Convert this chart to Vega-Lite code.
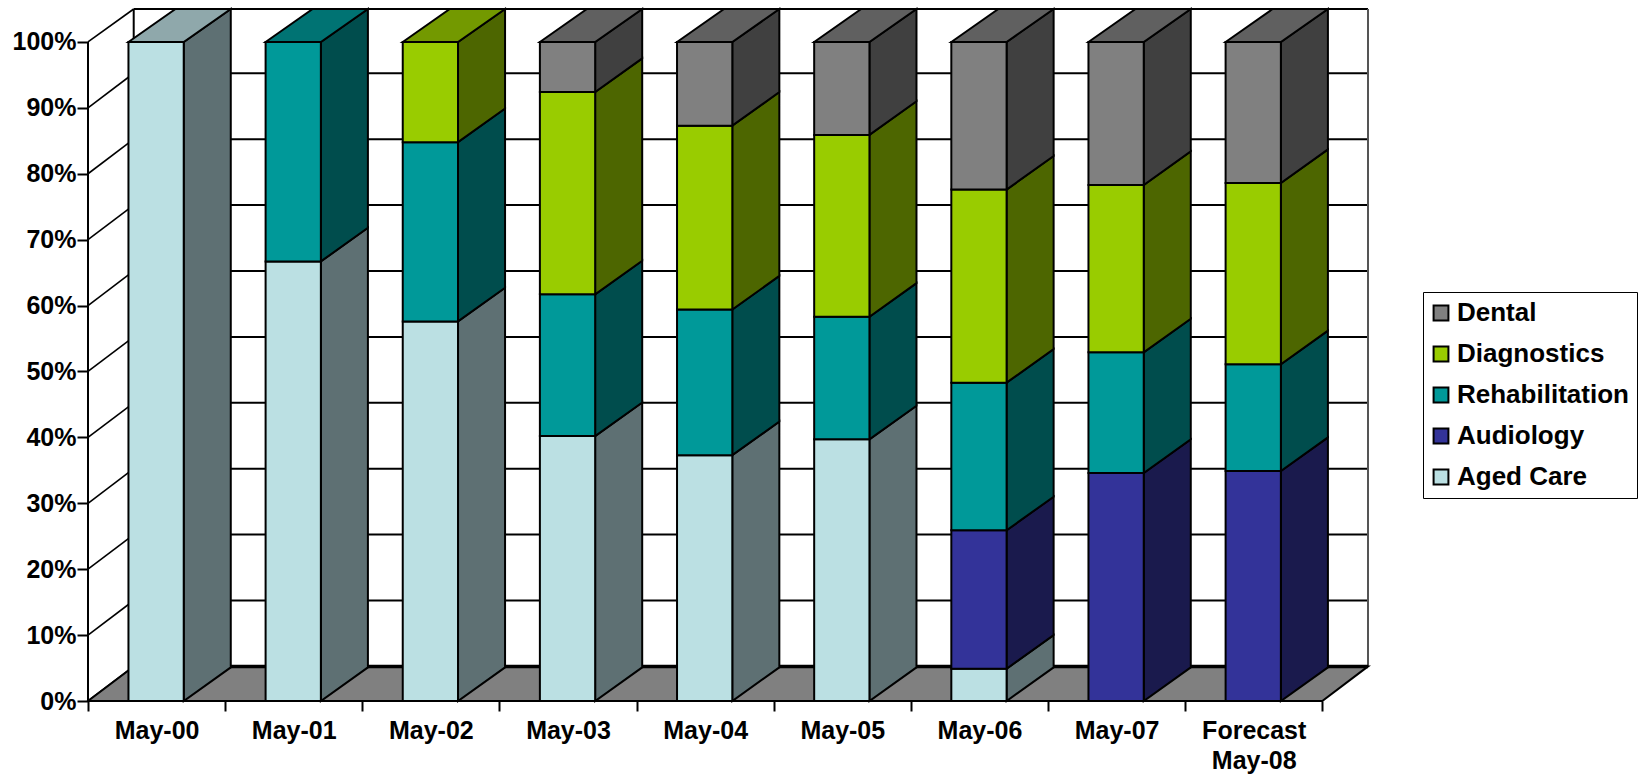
{
  "$schema": "https://vega.github.io/schema/vega-lite/v6.json",
  "width": 1280,
  "height": 692,
  "autosize": "none",
  "padding": {"left": 88, "top": 9, "right": 271, "bottom": 74},
  "background": "white",
  "config": {"view": {"stroke": null}},
  "params": [
    {"name": "depth", "value": 0.3333},
    {"name": "rise", "value": 5.25},
    {"name": "barDepth", "value": 0.343},
    {"name": "barRise", "value": 5.1},
    {"name": "ceiling", "value": 105},
    {"name": "slots", "value": 9}
  ],
  "datasets": {
    "levels": [
      {"pct": 0}, {"pct": 10}, {"pct": 20}, {"pct": 30}, {"pct": 40}, {"pct": 50},
      {"pct": 60}, {"pct": 70}, {"pct": 80}, {"pct": 90}, {"pct": 100}
    ]
  },
  "data": {
    "values": [
      {"month": "May-00", "service": "Aged Care", "share": 100},
      {"month": "May-01", "service": "Aged Care", "share": 66.7},
      {"month": "May-01", "service": "Rehabilitation", "share": 33.3},
      {"month": "May-02", "service": "Aged Care", "share": 57.6},
      {"month": "May-02", "service": "Rehabilitation", "share": 27.2},
      {"month": "May-02", "service": "Diagnostics", "share": 15.2},
      {"month": "May-03", "service": "Aged Care", "share": 40.2},
      {"month": "May-03", "service": "Rehabilitation", "share": 21.5},
      {"month": "May-03", "service": "Diagnostics", "share": 30.7},
      {"month": "May-03", "service": "Dental", "share": 7.6},
      {"month": "May-04", "service": "Aged Care", "share": 37.3},
      {"month": "May-04", "service": "Rehabilitation", "share": 22.1},
      {"month": "May-04", "service": "Diagnostics", "share": 27.9},
      {"month": "May-04", "service": "Dental", "share": 12.7},
      {"month": "May-05", "service": "Aged Care", "share": 39.7},
      {"month": "May-05", "service": "Rehabilitation", "share": 18.6},
      {"month": "May-05", "service": "Diagnostics", "share": 27.6},
      {"month": "May-05", "service": "Dental", "share": 14.1},
      {"month": "May-06", "service": "Aged Care", "share": 4.9},
      {"month": "May-06", "service": "Audiology", "share": 21.0},
      {"month": "May-06", "service": "Rehabilitation", "share": 22.4},
      {"month": "May-06", "service": "Diagnostics", "share": 29.3},
      {"month": "May-06", "service": "Dental", "share": 22.4},
      {"month": "May-07", "service": "Audiology", "share": 34.6},
      {"month": "May-07", "service": "Rehabilitation", "share": 18.3},
      {"month": "May-07", "service": "Diagnostics", "share": 25.4},
      {"month": "May-07", "service": "Dental", "share": 21.7},
      {"month": "May-08", "service": "Audiology", "share": 34.9},
      {"month": "May-08", "service": "Rehabilitation", "share": 16.2},
      {"month": "May-08", "service": "Diagnostics", "share": 27.5},
      {"month": "May-08", "service": "Dental", "share": 21.4}
    ]
  },
  "transform": [
    {"calculate": "indexof(['Aged Care','Audiology','Rehabilitation','Diagnostics','Dental'], datum.service)", "as": "rank"},
    {"stack": "share", "groupby": ["month"], "sort": [{"field": "rank", "order": "ascending"}], "as": ["v0", "v1"]},
    {"calculate": "indexof(['May-00','May-01','May-02','May-03','May-04','May-05','May-06','May-07','May-08'], datum.month)", "as": "slot"},
    {"calculate": "datum.slot + 0.295", "as": "xl"},
    {"calculate": "datum.slot + 0.698", "as": "xr"},
    {"calculate": "datum.month + '|' + datum.service", "as": "key"}
  ],
  "encoding": {
    "x": {
      "field": "gx",
      "type": "quantitative",
      "title": null,
      "scale": {"domain": [0, 9.3333], "nice": false, "zero": false},
      "axis": {
        "values": [0, 0.5, 1, 1.5, 2, 2.5, 3, 3.5, 4, 4.5, 5, 5.5, 6, 6.5, 7, 7.5, 8, 8.5, 9],
        "labelExpr": "datum.value % 1 === 0 ? '' : datum.value > 8 ? ['Forecast', 'May-08'] : 'May-0' + floor(datum.value)",
        "domain": false,
        "grid": false,
        "tickSize": 10,
        "tickWidth": 2,
        "tickColor": "black",
        "tickOpacity": {"condition": {"test": "datum.value % 1 === 0", "value": 1}, "value": 0},
        "labelFont": "Liberation Sans",
        "labelFontWeight": "bold",
        "labelFontSize": 25,
        "labelColor": "black",
        "labelPadding": 7,
        "labelLineHeight": 30,
        "labelOverlap": false,
        "labelBound": false,
        "labelFlush": false
      }
    },
    "y": {
      "field": "gy",
      "type": "quantitative",
      "title": null,
      "stack": null,
      "scale": {"domain": [0, 105], "nice": false, "zero": false},
      "axis": {
        "values": [0, 10, 20, 30, 40, 50, 60, 70, 80, 90, 100],
        "labelExpr": "datum.value + '%'",
        "domain": false,
        "grid": false,
        "tickSize": 11,
        "tickWidth": 2,
        "tickColor": "black",
        "labelFont": "Liberation Sans",
        "labelFontWeight": "bold",
        "labelFontSize": 25,
        "labelColor": "black",
        "labelPadding": 1,
        "labelOverlap": false,
        "labelBound": false
      }
    }
  },
  "layer": [
    {
      "description": "Back wall gridlines",
      "data": {"name": "levels"},
      "transform": [
        {"calculate": "depth", "as": "gx"},
        {"calculate": "slots + depth", "as": "gx2"},
        {"calculate": "min(datum.pct + rise, ceiling)", "as": "gy"}
      ],
      "mark": {"type": "rule", "stroke": "black", "strokeWidth": 2},
      "encoding": {"x2": {"field": "gx2"}}
    },
    {
      "description": "Side wall diagonals",
      "data": {"name": "levels"},
      "transform": [
        {"calculate": "0", "as": "gx"},
        {"calculate": "depth", "as": "gx2"},
        {"calculate": "datum.pct", "as": "gy"},
        {"calculate": "min(datum.pct + rise, ceiling)", "as": "gy2"}
      ],
      "mark": {"type": "rule", "stroke": "black", "strokeWidth": 1.6},
      "encoding": {"x2": {"field": "gx2"}, "y2": {"field": "gy2"}}
    },
    {
      "description": "Right edge of the back wall",
      "data": {"name": "levels"},
      "transform": [
        {"filter": "datum.pct === 0"},
        {"calculate": "slots + depth", "as": "gx"},
        {"calculate": "rise", "as": "gy"},
        {"calculate": "ceiling", "as": "gy2"}
      ],
      "mark": {"type": "rule", "stroke": "#555555", "strokeWidth": 2},
      "encoding": {"y2": {"field": "gy2"}}
    },
    {
      "description": "Floor",
      "data": {"name": "levels"},
      "transform": [
        {"filter": "datum.pct === 0"},
        {"calculate": "[{x: 0, lo: 0, hi: 0}, {x: depth, lo: 0, hi: rise}, {x: slots, lo: 0, hi: rise}, {x: slots + depth, lo: rise, hi: rise}]", "as": "pts"},
        {"flatten": ["pts"]},
        {"calculate": "datum.pts.x", "as": "gx"},
        {"calculate": "datum.pts.hi", "as": "gy"},
        {"calculate": "datum.pts.lo", "as": "gy2"}
      ],
      "mark": {"type": "area", "orient": "vertical", "fill": "#808080", "stroke": "black", "strokeWidth": 2},
      "encoding": {"y2": {"field": "gy2"}}
    },
    {
      "description": "Heavy back edge of the floor, plus the front axis lines",
      "data": {"name": "levels"},
      "transform": [
        {"filter": "datum.pct === 0"},
        {"calculate": "[{a: depth, b: slots + depth, c: rise, d: rise, w: 'heavy'}, {a: 0, b: 0, c: 0, d: 100, w: 'axis'}, {a: depth, b: depth, c: rise, d: ceiling, w: 'axis'}, {a: 0, b: slots, c: 0, d: 0, w: 'axis'}]", "as": "segs"},
        {"flatten": ["segs"]},
        {"calculate": "datum.segs.a", "as": "gx"},
        {"calculate": "datum.segs.b", "as": "gx2"},
        {"calculate": "datum.segs.c", "as": "gy"},
        {"calculate": "datum.segs.d", "as": "gy2"},
        {"calculate": "datum.segs.w", "as": "weight"}
      ],
      "mark": {"type": "rule", "stroke": "black"},
      "encoding": {
        "x2": {"field": "gx2"},
        "y2": {"field": "gy2"},
        "strokeWidth": {
          "field": "weight",
          "type": "nominal",
          "legend": null,
          "scale": {"domain": ["heavy", "axis"], "range": [3.5, 2]}
        }
      }
    },
    {
      "description": "Shaded right-hand side of each segment",
      "transform": [
        {"calculate": "[{x: datum.xr, lo: datum.v0, hi: datum.v1}, {x: datum.xr + barDepth, lo: datum.v0 + barRise, hi: min(datum.v1 + barRise, ceiling)}]", "as": "pts"},
        {"flatten": ["pts"]},
        {"calculate": "datum.pts.x", "as": "gx"},
        {"calculate": "datum.pts.hi", "as": "gy"},
        {"calculate": "datum.pts.lo", "as": "gy2"}
      ],
      "mark": {"type": "area", "orient": "vertical", "stroke": "black", "strokeWidth": 2},
      "encoding": {
        "y2": {"field": "gy2"},
        "detail": {"field": "key"},
        "color": {
          "field": "service",
          "type": "nominal",
          "legend": null,
          "scale": {
            "domain": ["Dental", "Diagnostics", "Rehabilitation", "Audiology", "Aged Care"],
            "range": ["#404040", "#4D6600", "#004D4D", "#1A1A4D", "#5E7073"]
          }
        }
      }
    },
    {
      "description": "Top face of the highest segment in each column",
      "transform": [
        {"filter": "datum.v1 > 99.9"},
        {"calculate": "[{x: datum.xl, lo: datum.v1, hi: datum.v1}, {x: datum.xl + barDepth, lo: datum.v1, hi: ceiling}, {x: datum.xr, lo: datum.v1, hi: ceiling}, {x: datum.xr + barDepth, lo: ceiling, hi: ceiling}]", "as": "pts"},
        {"flatten": ["pts"]},
        {"calculate": "datum.pts.x", "as": "gx"},
        {"calculate": "datum.pts.hi", "as": "gy"},
        {"calculate": "datum.pts.lo", "as": "gy2"}
      ],
      "mark": {"type": "area", "orient": "vertical", "stroke": "black", "strokeWidth": 2},
      "encoding": {
        "y2": {"field": "gy2"},
        "detail": {"field": "key"},
        "color": {
          "field": "service",
          "type": "nominal",
          "legend": null,
          "scale": {
            "domain": ["Dental", "Diagnostics", "Rehabilitation", "Audiology", "Aged Care"],
            "range": ["#606060", "#739900", "#007373", "#26267A", "#8FA8AB"]
          }
        }
      }
    },
    {
      "description": "Front face of each segment",
      "transform": [
        {"calculate": "datum.xl", "as": "gx"},
        {"calculate": "datum.xr", "as": "gx2"},
        {"calculate": "datum.v1", "as": "gy"},
        {"calculate": "datum.v0", "as": "gy2"}
      ],
      "mark": {"type": "rect", "stroke": "black", "strokeWidth": 2},
      "encoding": {
        "x2": {"field": "gx2"},
        "y2": {"field": "gy2"},
        "color": {
          "field": "service",
          "type": "nominal",
          "scale": {
            "domain": ["Dental", "Diagnostics", "Rehabilitation", "Audiology", "Aged Care"],
            "range": ["#808080", "#99CC00", "#009999", "#333399", "#BBE0E3"]
          },
          "legend": {
            "title": null,
            "orient": "none",
            "legendX": 1335,
            "legendY": 283,
            "padding": 8,
            "strokeColor": "black",
            "fillColor": "white",
            "symbolType": "square",
            "symbolSize": 220,
            "symbolStrokeColor": "black",
            "symbolStrokeWidth": 2,
            "symbolOpacity": 1,
            "symbolOffset": -3,
            "labelFont": "Liberation Sans",
            "labelFontWeight": "bold",
            "labelFontSize": 26,
            "labelColor": "black",
            "labelLimit": 400,
            "labelOffset": 3,
            "rowPadding": 15
          }
        }
      }
    }
  ],
  "resolve": {"scale": {"color": "independent", "strokeWidth": "independent"}}
}
